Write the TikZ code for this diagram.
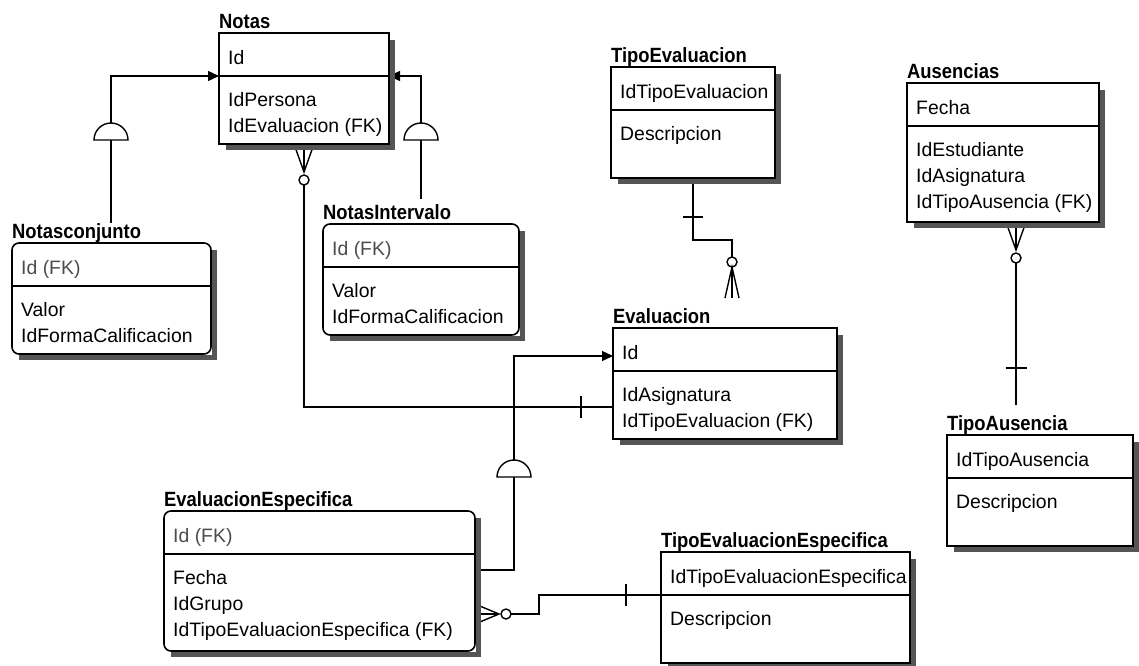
\documentclass[tikz,border=0pt]{standalone}
\usepackage{graphicx}
\usepackage{fontspec}
\setmainfont{Liberation Sans}
\usetikzlibrary{arrows.meta,calc}

\definecolor{shadowgray}{RGB}{85,85,85}

\newcommand\fieldsize{\fontsize{19.4}{23}\selectfont}
\newcommand\titlesize{\fontsize{18.4}{22}\selectfont\bfseries}
\newcommand\entname[1]{\scalebox{1}[1.12]{#1}}

% #1 name, #2 box style, #3 left, #4 top, #5 width, #6 height, #7 title
\newcommand\entitybox[7]{%
  \node[#2, minimum width=#5pt, minimum height=#6pt] (#1) at (#3,#4) {};
  \node[enttitle] (#1-title) at (#3,#4-5) {\entname{#7}};
  \draw[divider] ($(#1.north west)+(0,43)$) -- ($(#1.north east)+(0,43)$);
}
% shadow band along the right and bottom sides of a box
\newcommand\boxshade[1]{%
  \fill[shadowgray] ($(#1.north east)+(0.8,7)$) rectangle ($(#1.south east)+(5.5,5.5)$);
  \fill[shadowgray] ($(#1.south west)+(7,0.8)$) rectangle ($(#1.south east)+(5.5,5.5)$);
}

\tikzset{
  ent/.style={draw, line width=1.6pt, fill=white, inner sep=0pt, outer sep=0pt, anchor=north west},
  roundent/.style={ent, rounded corners=7pt},
  enttitle/.style={anchor=base west, inner sep=0pt, font=\titlesize},
  field/.style={anchor=base west, inner sep=0pt, font=\fieldsize},
  fkey/.style={field, text=black!70},
  divider/.style={line width=1.3pt},
  link/.style={line width=1.4pt},
  isa/.style={link, -{Triangle[length=11pt,width=10pt]}},
  dome/.style={link, fill=white},
  ring/.style={link, fill=white},
}

\begin{document}
\begin{tikzpicture}[x=1pt, y=-1pt]
\fill[white] (0,0) rectangle (1139,665);
\useasboundingbox (0,0) rectangle (1139,665);

% ---------------- entities ----------------
\entitybox{notas}{ent}{219}{33}{170}{111}{Notas}
\node[field] (notas-r1) at (228,64) {Id};
\node[field] (notas-r2) at (228,106) {IdPersona};
\node[field] (notas-r3) at (228,132) {IdEvaluacion (FK)};

\entitybox{nconj}{roundent}{12}{243}{199}{111}{Notasconjunto}
\node[fkey]  (nconj-r1) at (21,274) {Id (FK)};
\node[field] (nconj-r2) at (21,316) {Valor};
\node[field] (nconj-r3) at (21,342) {IdFormaCalificacion};

\entitybox{nint}{roundent}{323}{224}{196}{111}{NotasIntervalo}
\node[fkey]  (nint-r1) at (332,255) {Id (FK)};
\node[field] (nint-r2) at (332,297) {Valor};
\node[field] (nint-r3) at (332,323) {IdFormaCalificacion};

\entitybox{teval}{ent}{611}{67}{164}{111}{TipoEvaluacion}
\node[field] (teval-r1) at (620,98) {IdTipoEvaluacion};
\node[field] (teval-r2) at (620,140) {Descripcion};

\entitybox{aus}{ent}{907}{83}{192}{139}{Ausencias}
\node[field] (aus-r1) at (916,114) {Fecha};
\node[field] (aus-r2) at (916,156) {IdEstudiante};
\node[field] (aus-r3) at (916,182) {IdAsignatura};
\node[field] (aus-r4) at (916,208) {IdTipoAusencia (FK)};

\entitybox{eval}{ent}{613}{328}{224}{111}{Evaluacion}
\node[field] (eval-r1) at (622,359) {Id};
\node[field] (eval-r2) at (622,401) {IdAsignatura};
\node[field] (eval-r3) at (622,427) {IdTipoEvaluacion (FK)};

\entitybox{eesp}{roundent}{164}{511}{311}{140}{EvaluacionEspecifica}
\node[fkey]  (eesp-r1) at (173,542) {Id (FK)};
\node[field] (eesp-r2) at (173,584) {Fecha};
\node[field] (eesp-r3) at (173,610) {IdGrupo};
\node[field] (eesp-r4) at (173,636) {IdTipoEvaluacionEspecifica (FK)};

\entitybox{tesp}{ent}{661}{552}{249}{111}{TipoEvaluacionEspecifica}
\node[field] (tesp-r1) at (670,583) {IdTipoEvaluacionEspecifica};
\node[field] (tesp-r2) at (670,625) {Descripcion};

\entitybox{taus}{ent}{947}{435}{186}{111}{TipoAusencia}
\node[field] (taus-r1) at (956,466) {IdTipoAusencia};
\node[field] (taus-r2) at (956,508) {Descripcion};

% ---------------- anchor points ----------------
\coordinate (notasDivW) at ($(notas.north west)+(0,43)$);
\coordinate (notasDivE) at ($(notas.north east)+(0,43)$);
\coordinate (evalIdW)   at ($(eval.north west)+(0,28)$);
\coordinate (evalFkW)   at ($(eval.north west)+(0,79)$);
\coordinate (tespDivW)  at ($(tesp.north west)+(0,43)$);

% ---------------- Notasconjunto is a Notas ----------------
\coordinate (domeA) at (111,140);
\draw[link] (nconj-title.north -| domeA) -- (domeA);
\draw[dome] ($(domeA)+(-17,0)$) arc[start angle=180, end angle=0, radius=17pt] -- cycle;
\draw[isa] ($(domeA)+(0,-17)$) |- (notasDivW);

% ---------------- NotasIntervalo is a Notas ----------------
\coordinate (domeB) at (421,140);
\coordinate (nintEnd) at (421,199);
\draw[link] (nintEnd) -- (domeB);
\draw[dome] ($(domeB)+(-17,0)$) arc[start angle=180, end angle=0, radius=17pt] -- cycle;
\draw[isa] ($(domeB)+(0,-17)$) |- (notasDivE);

% ---------------- Notas (many) -- Evaluacion (one) ----------------
\coordinate (nf) at ($(notas.south west)+(85,0)$);
\draw[link] ($(nf)+(-10,0)$) -- ($(nf)+(0,28)$) -- ($(nf)+(10,0)$);
\draw[link] (nf) -- ($(nf)+(0,28)$);
\draw[ring] ($(nf)+(0,36)$) circle[radius=5pt];
\draw[link] ($(nf)+(0,41)$) |- (evalFkW);
\draw[link] ($(evalFkW)+(-32,-11)$) -- ($(evalFkW)+(-32,11)$);

% ---------------- TipoEvaluacion (one) -- Evaluacion (many) ----------------
\coordinate (tf) at ($(teval.south west)+(82,0)$);
\coordinate (tfBend) at (732,240);
\coordinate (tfEnd) at (732,298);
\draw[link] (tf) |- (tfBend) -- ($(tfBend)+(0,17)$);
\draw[link] ($(tf)+(-10,39)$) -- ($(tf)+(10,39)$);
\draw[ring] ($(tfBend)+(0,22)$) circle[radius=5pt];
\draw[link] ($(tfEnd)+(-7,0)$) -- ($(tfBend)+(0,27)$) -- ($(tfEnd)+(7,0)$);
\draw[link] ($(tfBend)+(0,27)$) -- (tfEnd);

% ---------------- EvaluacionEspecifica is an Evaluacion ----------------
\coordinate (eeR) at ($(eesp.north east)+(0,59)$);
\coordinate (domeC) at (514,477);
\draw[link] (eeR) -| (domeC);
\draw[dome] ($(domeC)+(-17,0)$) arc[start angle=180, end angle=0, radius=17pt] -- cycle;
\draw[isa] ($(domeC)+(0,-17)$) |- (evalIdW);

% ---------------- EvaluacionEspecifica (many) -- TipoEvaluacionEspecifica (one) ----------------
\coordinate (ec) at ($(eesp.north east)+(0,103)$);
\draw[link] ($(ec)+(0,-10)$) -- ($(ec)+(24,0)$) -- ($(ec)+(0,10)$);
\draw[link] (ec) -- ($(ec)+(24,0)$);
\draw[ring] ($(ec)+(31,0)$) circle[radius=5pt];
\draw[link] ($(ec)+(36,0)$) -| ($(tespDivW)+(-122,0)$) -- (tespDivW);
\draw[link] ($(tespDivW)+(-35,-11)$) -- ($(tespDivW)+(-35,11)$);

% ---------------- Ausencias (many) -- TipoAusencia (one) ----------------
\coordinate (af) at ($(aus.south west)+(109,0)$);
\coordinate (afEnd) at ($(af)+(0,183)$);
\draw[link] ($(af)+(-10,0)$) -- ($(af)+(0,28)$) -- ($(af)+(10,0)$);
\draw[link] (af) -- ($(af)+(0,28)$);
\draw[ring] ($(af)+(0,36)$) circle[radius=5pt];
\draw[link] ($(af)+(0,41)$) -- (afEnd);
\draw[link] ($(af)+(-10.5,146)$) -- ($(af)+(10.5,146)$);

% ---------------- box shadows ----------------
\boxshade{notas}
\boxshade{nconj}
\boxshade{nint}
\boxshade{teval}
\boxshade{aus}
\boxshade{eval}
\boxshade{eesp}
\boxshade{tesp}
\boxshade{taus}
\end{tikzpicture}
\end{document}
